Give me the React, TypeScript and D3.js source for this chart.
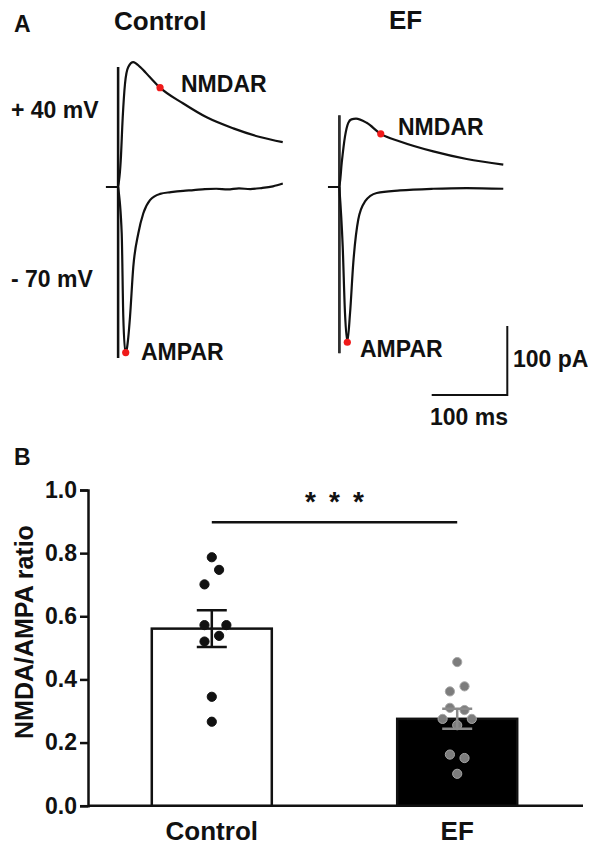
import { useEffect, useRef } from 'react';
import * as d3 from 'd3';

// ---- panel A: traces (time in ms from stimulus, current in pA) ----
const ctrlPos40 = [
	[-16, 0], [0, 0], [3.6, 38], [6.2, 100], [9.3, 150], [13.6, 174], [20.2, 181], [29.1, 174],
	[42.3, 159], [55.6, 144], [86.4, 121], [117.3, 101], [152.5, 85], [187.8, 72.5], [217.9, 65],
];
const ctrlNeg70 = [
	[0, 0], [4.9, -67], [7, -188], [9.8, -240], [11.8, -234], [13.6, -218], [15.9, -188], [20.2, -116],
	[26.9, -67], [33.5, -38], [42.3, -19], [55.6, -10], [70, -7.5], [86.4, -5.5], [100, -4.5],
	[115, -3], [130, -2.5], [145, -3.5], [160, -2], [175, -3], [190, -1.5], [205, 1], [218, 5],
];
const efPos40 = [
	[-15, 0], [0, 0], [3.2, 35], [7.5, 73], [11.9, 93], [16, 98], [22.1, 99], [36.2, 93],
	[54.8, 77], [80.3, 66], [124.3, 51.6], [168.5, 40.6], [216.9, 32.3],
];
const efNeg70 = [
	[0, 0], [4.5, -86], [7.5, -182], [10.6, -224], [14.2, -183], [18.5, -110], [25.1, -47],
	[34, -21], [49.5, -8.7], [80.3, -5], [124.3, -2.5], [168.5, -1.5], [216.9, -2.5],
];
// stimulus artifact: [time, min pA, max pA]
const ctrlArtifact = [0, -248, 174];
const efArtifact = [0, -241, 104];
// peak markers [time, pA]
const ctrlNmdar = [55.6, 144];
const ctrlAmpar = [10.2, -240];
const efNmdar = [54.8, 77];
const efAmpar = [10.6, -225];

// ---- panel B: NMDA/AMPA ratio ----
const groups = ['Control', 'EF'];
const controlRatios = [0.787, 0.747, 0.701, 0.572, 0.572, 0.538, 0.520, 0.345, 0.266];
const controlSlots = [0, 1, -1, -1, 2, 1, -1, 0, 0];
const efRatios = [0.455, 0.378, 0.362, 0.310, 0.303, 0.275, 0.275, 0.255, 0.162, 0.151, 0.101];
const efSlots = [0, 1, -1, -1, 1, -2, 2, 0, -1, 1, 0];
const yTicks = [0, 0.2, 0.4, 0.6, 0.8, 1.0];

const FONT = '"Liberation Sans", Arial, sans-serif';
const RED = '#f01a1a';

export default function App() {
	const svgRef = useRef<SVGSVGElement>(null);

	useEffect(() => {
		const svg = d3.select(svgRef.current);
		svg.selectAll('*').remove();
		svg.style('font-family', FONT).style('font-weight', 'bold');

		// ===== Panel A =====
		const msPx = 0.756;
		const paPx = 0.69;
		const base = 187;
		const yI = d3.scaleLinear().domain([0, 100]).range([base, base - 100 * paPx]);
		const xCtrl = d3.scaleLinear().domain([0, 100]).range([118, 118 + 100 * msPx]);
		const xEf = d3.scaleLinear().domain([0, 100]).range([339.3, 339.3 + 100 * msPx]);

		const drawCell = (x, pos, neg, art, nm, am) => {
			const line = d3.line<number[]>()
				.x(d => x(d[0]))
				.y(d => yI(d[1]))
				.curve(d3.curveMonotoneX);
			// two stacked artifacts (one per holding potential)
			[-0.6, 0.9].forEach(dt => {
				svg.append('line')
					.attr('x1', x(art[0] + dt)).attr('x2', x(art[0] + dt))
					.attr('y1', yI(art[1])).attr('y2', yI(art[2]))
					.attr('stroke', '#111').attr('stroke-width', 1.4);
			});
			[pos, neg].forEach(tr => {
				svg.append('path')
					.attr('d', line(tr))
					.attr('fill', 'none')
					.attr('stroke', '#111')
					.attr('stroke-width', 2.2);
			});
			[nm, am].forEach(p => {
				svg.append('circle')
					.attr('cx', x(p[0])).attr('cy', yI(p[1]))
					.attr('r', 3.6).attr('fill', RED);
			});
		};
		drawCell(xCtrl, ctrlPos40, ctrlNeg70, ctrlArtifact, ctrlNmdar, ctrlAmpar);
		drawCell(xEf, efPos40, efNeg70, efArtifact, efNmdar, efAmpar);

		const label = (txt, x, y, size, anchor = 'start') =>
			svg.append('text')
				.attr('x', x).attr('y', y)
				.attr('font-size', size)
				.attr('text-anchor', anchor)
				.attr('fill', '#111')
				.text(txt);

		label('A', 14, 32, 23);
		label('Control', 114, 30, 26);
		label('EF', 389, 28.5, 26);
		label('+ 40 mV', 11, 118, 23);
		label('- 70 mV', 11, 287, 23);
		label('NMDAR', 181, 92, 23);
		label('AMPAR', 141, 360, 23);
		label('NMDAR', 398, 135, 23);
		label('AMPAR', 360, 357, 23);

		// scale bar
		const sbX = 507.3;
		const sbY = 395;
		const barH = yI(0) - yI(100);
		const barW = xEf(100) - xEf(0);
		svg.append('path')
			.attr('d', `M${sbX},${sbY - barH}V${sbY}H${sbX - barW}`)
			.attr('fill', 'none')
			.attr('stroke', '#111')
			.attr('stroke-width', 2);
		label('100 pA', 513, 367, 23);
		label('100 ms', 430, 425, 23);

		// ===== Panel B =====
		const y = d3.scaleLinear().domain([0, 1]).range([805.7, 490]);
		const x = d3.scaleBand().domain(groups).range([87, 582]).paddingInner(0.511).paddingOuter(0.264);
		const bw = x.bandwidth();
		const slotPx = 7.3;

		label('B', 14, 465, 23);

		const gy = svg.append('g').attr('transform', 'translate(88,0)');
		gy.call(d3.axisLeft(y).tickValues(yTicks).tickFormat(d3.format('.1f')).tickSize(8).tickPadding(3));
		gy.select('.domain').attr('stroke', '#111').attr('stroke-width', 2.5);
		gy.selectAll('.tick line').attr('stroke', '#111').attr('stroke-width', 2.5);
		gy.selectAll('.tick text')
			.attr('font-size', 23)
			.attr('font-family', FONT)
			.attr('font-weight', 'bold')
			.attr('fill', '#111');

		svg.append('line')
			.attr('x1', 88).attr('x2', 583)
			.attr('y1', y(0)).attr('y2', y(0))
			.attr('stroke', '#111').attr('stroke-width', 2.5);

		svg.append('text')
			.attr('transform', `translate(33,${y(0.55)}) rotate(-90)`)
			.attr('text-anchor', 'middle')
			.attr('font-size', 25)
			.attr('fill', '#111')
			.text('NMDA/AMPA ratio');

		const sets = [
			{ name: 'Control', vals: controlRatios, slots: controlSlots, fill: '#fff', ink: '#111', dot: '#111', dotStroke: '#111' },
			{ name: 'EF', vals: efRatios, slots: efSlots, fill: '#000', ink: '#8a8a8a', dot: '#7c7c7c', dotStroke: '#a6a6a6' },
		];

		sets.forEach(s => {
			const m = d3.mean(s.vals);
			svg.append('rect')
				.attr('x', x(s.name)).attr('y', y(m))
				.attr('width', bw).attr('height', y(0) - y(m))
				.attr('fill', s.fill)
				.attr('stroke', '#111')
				.attr('stroke-width', 2.5);
		});

		sets.forEach(s => {
			const cx = x(s.name) + bw / 2;
			svg.selectAll(null)
				.data(s.vals)
				.join('circle')
				.attr('cx', (d, i) => cx + s.slots[i] * slotPx)
				.attr('cy', d => y(d))
				.attr('r', 4.6)
				.attr('fill', s.dot)
				.attr('stroke', s.dotStroke)
				.attr('stroke-width', 1);
		});

		sets.forEach(s => {
			const m = d3.mean(s.vals);
			const sem = d3.deviation(s.vals) / Math.sqrt(s.vals.length);
			const cx = x(s.name) + bw / 2;
			const cap = 15;
			svg.append('path')
				.attr('d', `M${cx},${y(m + sem)}V${y(m - sem)}M${cx - cap},${y(m + sem)}H${cx + cap}M${cx - cap},${y(m - sem)}H${cx + cap}`)
				.attr('fill', 'none')
				.attr('stroke', s.ink)
				.attr('stroke-width', 2.5);
		});

		// significance bracket
		const c0 = x('Control') + bw / 2;
		const c1 = x('EF') + bw / 2;
		svg.append('line')
			.attr('x1', c0).attr('x2', c1)
			.attr('y1', y(0.898)).attr('y2', y(0.898))
			.attr('stroke', '#111').attr('stroke-width', 2.5);
		[-24, 0, 24].forEach(dx => label('*', (c0 + c1) / 2 + dx, 511, 28, 'middle'));

		groups.forEach(g => label(g, x(g) + bw / 2, 840, 26, 'middle'));
	}, []);

	return (
		<svg ref={svgRef} width={600} height={850}
			style={{ position: 'absolute', left: 0, top: 0, background: '#fff' }} />
	);
}
